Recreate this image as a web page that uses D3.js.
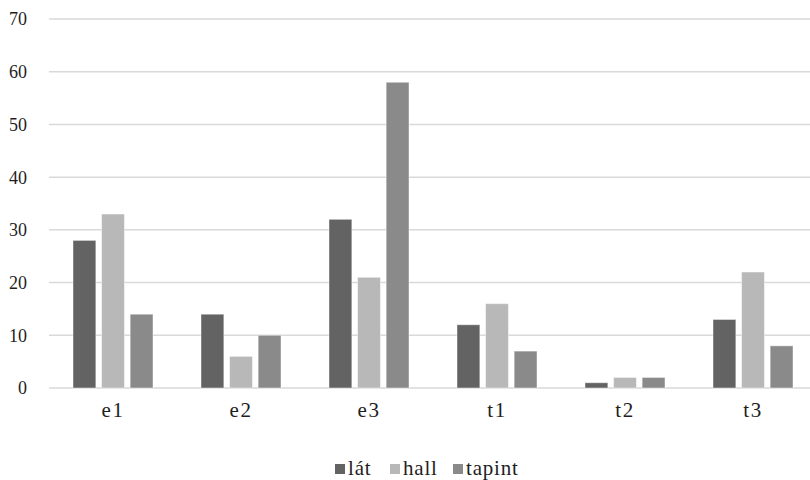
<!DOCTYPE html>
<html>
<head>
<meta charset="utf-8">
<script src="https://cdn.jsdelivr.net/npm/d3@7"></script>
</head>
<body style="margin:0;background:#fff">
<svg id="chart" width="810" height="480" font-family="Liberation Serif"></svg>
<script>
// Chart data
const categories = ["e1", "e2", "e3", "t1", "t2", "t3"];
const seriesNames = ["lát", "hall", "tapint"];
const latValues = [28, 14, 32, 12, 1, 13];
const hallValues = [33, 6, 21, 16, 2, 22];
const tapintValues = [14, 10, 58, 7, 2, 8];
const yTicks = [0, 10, 20, 30, 40, 50, 60, 70];

const seriesValues = [latValues, hallValues, tapintValues];
const colors = ["#636363", "#b8b8b8", "#8a8a8a"];
const FONT = "Liberation Serif";
const TEXT_COLOR = "#1e1e1e";

const svg = d3.select("#chart");
const plot = { left: 49, right: 817, top: 19, bottom: 388 };

const x0 = d3.scaleBand()
  .domain(categories)
  .range([plot.left, plot.right])
  .paddingInner(0.375)
  .paddingOuter(0.1875);

const x1 = d3.scaleBand()
  .domain(seriesNames)
  .range([0, x0.bandwidth()])
  .paddingInner(0.2)
  .paddingOuter(0);

const y = d3.scaleLinear().domain([0, 70]).range([plot.bottom, plot.top]);

// Horizontal gridlines
svg.append("g")
  .selectAll("line")
  .data(yTicks)
  .join("line")
  .attr("x1", plot.left)
  .attr("x2", plot.right)
  .attr("y1", d => y(d))
  .attr("y2", d => y(d))
  .attr("stroke", "#d9d9d9")
  .attr("stroke-width", 1.5);

// Y axis labels
const yAxis = d3.axisLeft(y).tickValues(yTicks).tickSize(0).tickPadding(0);
const yg = svg.append("g").attr("transform", "translate(27,0)").call(yAxis);
yg.attr("font-family", FONT).attr("font-size", 18);
yg.select(".domain").remove();
yg.selectAll("text")
  .attr("font-family", FONT)
  .attr("font-size", 18)
  .attr("fill", TEXT_COLOR)
  .attr("dy", "0.33em");

// Bars
const groups = svg.append("g")
  .selectAll("g")
  .data(categories)
  .join("g")
  .attr("transform", d => `translate(${x0(d)},0)`);

groups.selectAll("rect")
  .data((c, i) => seriesNames.map((s, k) => ({ s, k, v: seriesValues[k][i] })))
  .join("rect")
  .attr("x", d => x1(d.s))
  .attr("width", x1.bandwidth())
  .attr("y", d => y(d.v))
  .attr("height", d => y(0) - y(d.v))
  .attr("fill", d => colors[d.k])
  .attr("stroke", "#ffffff")
  .attr("stroke-opacity", 0.45)
  .attr("stroke-width", 1);

// X axis labels
const xAxis = d3.axisBottom(x0).tickSize(0).tickPadding(0);
const xg = svg.append("g").attr("transform", `translate(0,${plot.bottom})`).call(xAxis);
xg.attr("font-family", FONT).attr("font-size", 21);
xg.select(".domain").remove();
xg.selectAll("text")
  .attr("font-family", FONT)
  .attr("font-size", 21)
  .attr("fill", TEXT_COLOR)
  .attr("letter-spacing", 1.5)
  .attr("dy", null)
  .attr("y", 29);

// Legend
const legendX = [335, 390, 453];
const legend = svg.append("g")
  .selectAll("g")
  .data(seriesNames)
  .join("g")
  .attr("transform", (d, i) => `translate(${legendX[i]},0)`);
legend.append("rect")
  .attr("x", 0).attr("y", 464)
  .attr("width", 10).attr("height", 10)
  .attr("fill", (d, i) => colors[i]);
legend.append("text")
  .attr("x", 13).attr("y", 475)
  .attr("font-family", FONT)
  .attr("font-size", 21)
  .attr("letter-spacing", 0.8)
  .attr("fill", TEXT_COLOR)
  .text(d => d);
</script>
</body>
</html>
